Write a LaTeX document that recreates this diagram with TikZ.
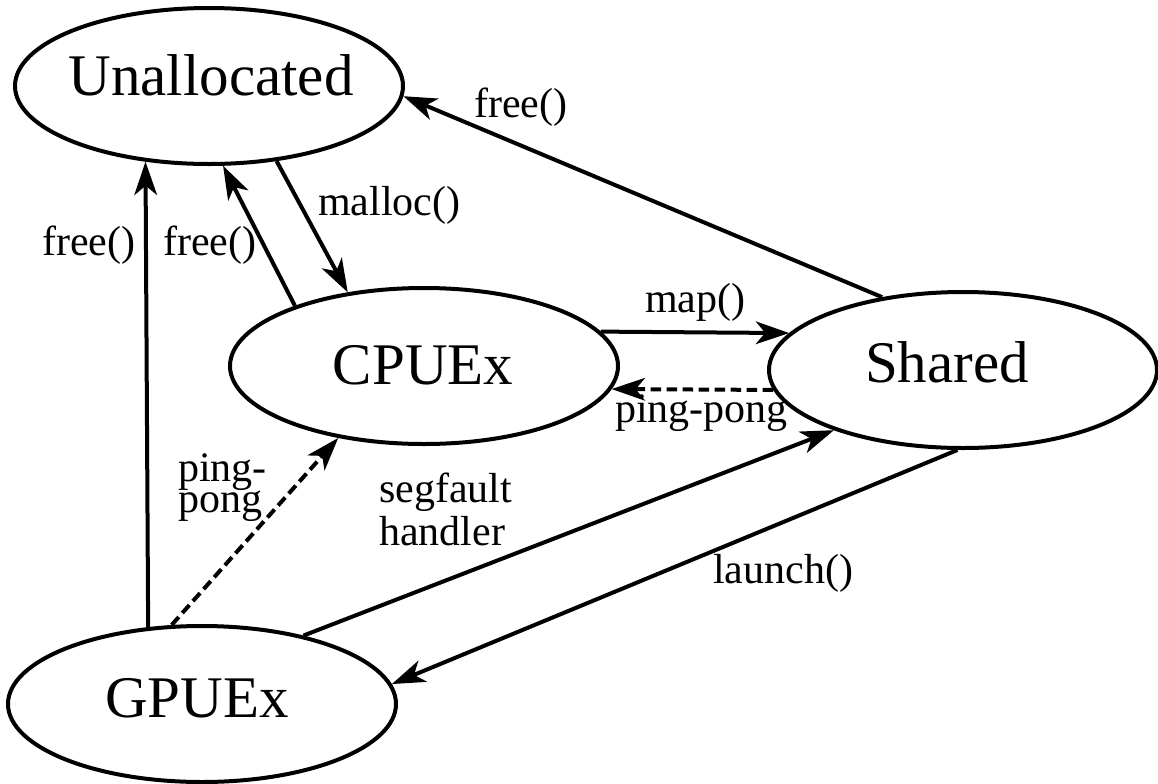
\documentclass[tikz,border=0pt]{standalone}
\usepackage{fontspec}
\setmainfont{Liberation Serif}
\usetikzlibrary{arrows.meta,shapes.geometric}
\begin{document}
\begin{tikzpicture}[x=0.75pt,y=-0.75pt,
  state/.style={draw, ellipse, line width=3pt, minimum width=291pt,
    minimum height=117pt, inner sep=0pt},
  statename/.style={anchor=base, inner sep=0pt,
    font=\fontsize{44.25}{53}\selectfont},
  edgelabel/.style={anchor=base west, inner sep=0pt, align=left,
    font=\fontsize{31.5}{32}\selectfont},
  trans/.style={line width=3pt,
    -{Stealth[length=25pt, width=17pt, inset=7pt]}},
  pingpong/.style={trans, dash pattern=on 8pt off 4pt}]
\useasboundingbox (0,0) rectangle (1158,783);

% states
\node[state] (unalloc) at (209,86) {};
\node[state] (cpu) at (424,366) {};
\node[state] (shared) at (963,370) {};
\node[state] (gpu) at (202,704) {};

\node[statename] (unalloc-name) at (211,95) {Unallocated};
\node[statename] (cpu-name) at (423,384) {CPUEx};
\node[statename] (shared-name) at (947,382) {Shared};
\node[statename] (gpu-name) at (197,717) {GPUEx};

% transitions
\draw[trans] (gpu.125.8) -- (unalloc.-130.2);
\draw[trans] (cpu.155.6) -- (unalloc.-80.4);
\draw[trans] (unalloc.-48.7) -- (cpu.136.9);
\draw[trans] (shared.138) -- (unalloc.-3.3);
\draw[trans] (cpu.11.4) -- (shared.168.2);
\draw[pingpong] (shared.-174.6) -- (cpu.-7.7);
\draw[pingpong] (gpu.111.5) -- (cpu.-140.1);
\draw[trans] (gpu.34.6) -- (shared.-155.8);
\draw[trans] (shared.-94.3) -- (gpu.6.6);

% transition labels (multi-line ones are placed by their last baseline)
\node[edgelabel] (l-free-gpu) at (42,255) {free()};
\node[edgelabel] (l-free-cpu) at (163,255) {free()};
\node[edgelabel] (l-malloc) at (318,215) {malloc()};
\node[edgelabel] (l-free-shared) at (474,117) {free()};
\node[edgelabel] (l-map) at (645,312) {map()};
\node[edgelabel] (l-pp-shared) at (615,422) {ping-pong};
\node[edgelabel, font=\fontsize{31.5}{23}\selectfont] (l-pp-gpu) at (178,512) {ping-\\pong};
\node[edgelabel] (l-segv) at (379,545) {segfault\\handler};
\node[edgelabel] (l-launch) at (713,583) {launch()};
\end{tikzpicture}
\end{document}
